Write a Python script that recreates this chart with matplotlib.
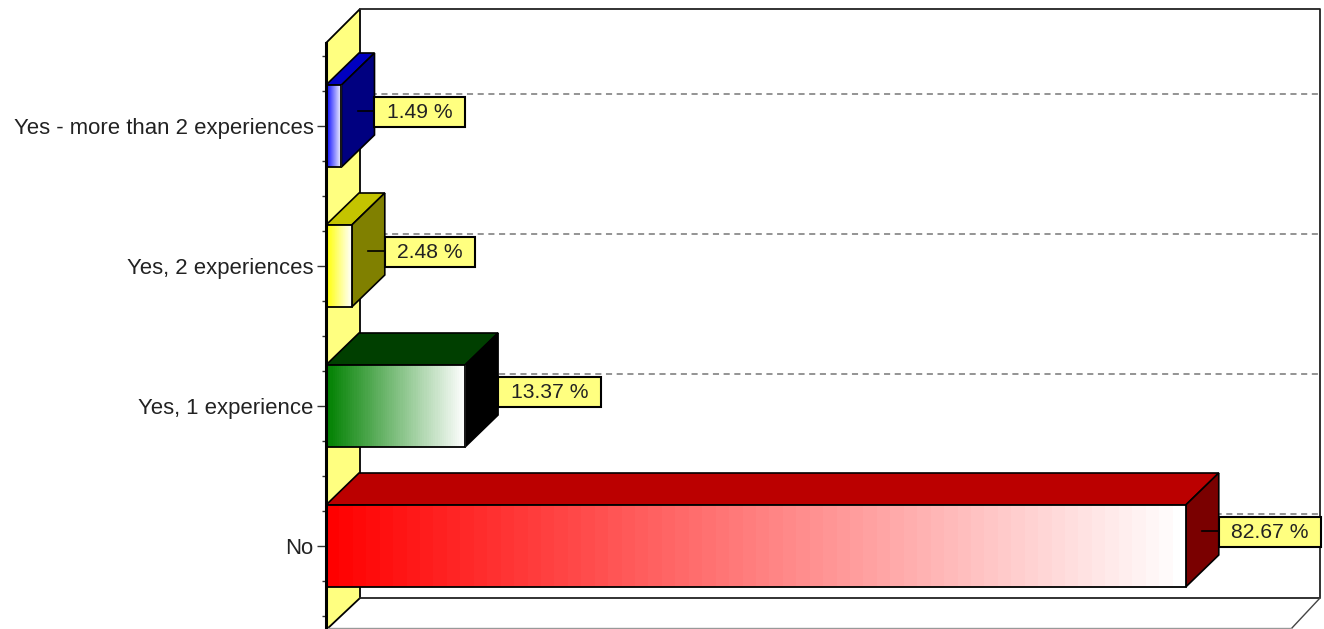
import numpy as np
import matplotlib
matplotlib.use('Agg')
import matplotlib.pyplot as plt
from matplotlib.colors import LinearSegmentedColormap
from matplotlib.patches import Polygon, Rectangle

plt.rcParams['font.family'] = ['Liberation Sans', 'DejaVu Sans']

# Data, bottom to top
categories = ['No', 'Yes, 1 experience', 'Yes, 2 experiences', 'Yes - more than 2 experiences']
values = [82.67, 13.37, 2.48, 1.49]
front_colors = ['#FF0000', '#008000', '#FFFF00', '#0000FF']
top_colors = ['#BB0000', '#003F00', '#C4C400', '#0000C0']
side_colors = ['#7A0000', '#000000', '#808000', '#000080']

W, H = 1324, 629
X0 = 326      # pixel of value 0
SX = 10.4     # pixels per percent
Y0 = 546      # pixel of first category
SY = 140.0    # pixels per category


def xv(px):
    return (px - X0) / SX


def yv(py):
    return (Y0 - py) / SY


fig = plt.figure(figsize=(W / 100, H / 100), dpi=100, facecolor='white')
ax = fig.add_axes([X0 / W, 0, (W - X0) / W, 1])
xmin, xmax = 0, xv(W)
ymin, ymax = yv(H), yv(0)
ax.set_xlim(xmin, xmax)
ax.set_ylim(ymin, ymax)

dx = 33 / SX    # 3d depth
dy = 32 / SY
bar_h = 82 / SY

# left wall and back frame
wall_top, wall_bot = yv(43), yv(630)
ax.add_patch(Polygon([(0, wall_bot), (xv(360), yv(598)), (xv(360), yv(9)), (0, wall_top)],
                     closed=True, fc='#FFFF80', ec='black', lw=1.3, zorder=1, clip_on=False))
ax.plot([xv(360), xv(1320), xv(1320), xv(360)], [yv(9), yv(9), yv(598), yv(598)],
        color='#222222', lw=1.3, zorder=1, clip_on=False)
ax.plot([xv(1320), xv(1291)], [yv(598), yv(629)], color='#444444', lw=1, zorder=1)
ax.plot([0, xv(1291)], [yv(628), yv(628)], color='#999999', lw=1, zorder=1)

# dashed grid on back wall
for i in range(len(categories)):
    ax.plot([xv(360), xv(1320)], [i + dy, i + dy], color='#777777', lw=1.1,
            dashes=(4, 3), zorder=1.5)

renderer = fig.canvas.get_renderer()
for i, (cat, v) in enumerate(zip(categories, values)):
    lo, hi = i - bar_h / 2, i + bar_h / 2
    cmap = LinearSegmentedColormap.from_list(cat, [front_colors[i], '#FFFFFF'], N=64)
    ax.imshow(np.linspace(0, 1, 256).reshape(1, -1), cmap=cmap, aspect='auto',
              extent=[0, v, lo, hi], zorder=3, interpolation='nearest')
    ax.add_patch(Polygon([(0, lo), (v, lo), (v, hi), (0, hi)], closed=True, fc='none',
                         ec='black', lw=1.3, zorder=4))
    ax.add_patch(Polygon([(0, hi), (v, hi), (v + dx, hi + dy), (dx, hi + dy)], closed=True,
                         fc=top_colors[i], ec='black', lw=1.2, zorder=2))
    ax.add_patch(Polygon([(v, lo), (v + dx, lo + dy), (v + dx, hi + dy), (v, hi)], closed=True,
                         fc=side_colors[i], ec='black', lw=1.2, zorder=2.5))
    # leader and value box
    ym = i + dy / 2 - 1 / SY
    ax.plot([v + dx / 2, v + dx], [ym, ym], color='black', lw=1.2, zorder=5)
    box_left = v + dx
    label = ax.text(box_left + 12.5 / SX, ym - 2 / SY, f'{v:.2f} %', fontsize=15.2, color='#222222',
                    ha='left', va='center', zorder=6, clip_on=False)
    box_w = (label.get_window_extent(renderer).width + 25) / SX
    ax.add_patch(Rectangle((box_left, ym - 16 / SY), box_w, 30 / SY, fc='#FFFF80', ec='black',
                           lw=1.5, zorder=5.5, clip_on=False))

ax.set_xlim(xmin, xmax)
ax.set_ylim(ymin, ymax)
ax.patch.set_visible(False)

for name in ['top', 'right', 'bottom']:
    ax.spines[name].set_visible(False)
ax.spines['left'].set_linewidth(2.2)
ax.spines['left'].set_bounds(yv(629), wall_top)
ax.spines['left'].set_zorder(7)

ax.set_xticks([])
ax.set_yticks(range(len(categories)), categories)
ax.set_yticks(np.arange(-0.5, 3.51, 0.25), minor=True)
ax.tick_params(axis='y', which='major', length=6.5, width=1, pad=2.5, labelsize=15.95,
               labelcolor='#222222', color='#333333')
ax.tick_params(axis='y', which='minor', length=3, width=1, color='#333333')

fig.savefig('out.png', dpi=100)
plt.close(fig)
